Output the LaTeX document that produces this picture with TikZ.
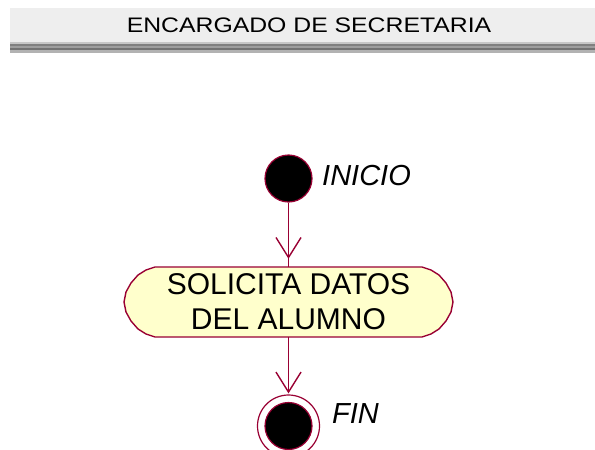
\documentclass[tikz,border=0pt]{standalone}
\usepackage{fontspec}
\setmainfont{Liberation Sans}
\usetikzlibrary{arrows.meta}
\definecolor{rosered}{HTML}{990033}
\definecolor{roseyellow}{HTML}{FFFFCC}
\definecolor{hdrbg}{HTML}{EEEEEE}
\begin{document}
\begin{tikzpicture}[x=1pt,y=-1pt,
  line/.style={draw=rosered,line width=1.4pt},
  conn/.style={line,-{Straight Barb[length=20pt,width=25pt,line width=1.4pt]}},
  label/.style={font=\fontsize{29}{29}\selectfont\itshape,inner sep=0pt,text=black},
  acttext/.style={font=\fontsize{30}{35}\selectfont,align=center,inner sep=0pt,text=black,minimum width=329pt,minimum height=70pt}
]
\useasboundingbox (0,0) rectangle (595,450);
% header
\fill[hdrbg] (10,8) rectangle (595,42);
\fill[black!22] (10,42) rectangle (595,44);
\fill[black!50] (10,44) rectangle (595,46);
\fill[black!38] (10,46) rectangle (595,48);
\fill[black!55] (10,48) rectangle (595,50);
\fill[black!30] (10,50) rectangle (595,53);
\node[anchor=base,inner sep=0pt,font=\fontsize{21}{21}\selectfont] (hdr) at (309,32) {\scalebox{1.18}[1]{ENCARGADO DE SECRETARIA}};
% initial state
\node[circle,fill=black,draw=rosered,line width=1.2pt,minimum size=47pt,inner sep=0pt] (ini) at (288.5,178.5) {};
\node[label,anchor=base west] (inilbl) at (322,185) {INICIO};
% activity
\path[line,fill=roseyellow]
  (155,267) -- (422,267)
  -- ++(9,3) -- ++(8,5) -- ++(7,8) -- ++(5,9) -- ++(2,10)
  -- ++(-2,10) -- ++(-5,9) -- ++(-7,8) -- ++(-8,5) -- ++(-9,3)
  -- (155,337)
  -- ++(-9,-3) -- ++(-8,-5) -- ++(-7,-8) -- ++(-5,-9) -- ++(-2,-10)
  -- ++(2,-10) -- ++(5,-9) -- ++(7,-8) -- ++(8,-5) -- cycle;
\node[acttext] (act) at (288.5,302) {SOLICITA DATOS\\DEL ALUMNO};
% final state
\node[circle,draw=rosered,line width=1.2pt,fill=white,minimum size=62pt,inner sep=0pt] (fin) at (288.5,426) {};
\node[circle,fill=black,draw=rosered,line width=1.2pt,minimum size=47pt,inner sep=0pt] (finin) at (fin.center) {};
\node[label,anchor=base west] (finlbl) at (332,423) {FIN};
% connectors
\draw[line] (ini) -- (act);
\draw[conn,shorten >=8pt] (ini) -- (act);
\draw[conn,shorten >=1pt] (act) -- (fin);
\end{tikzpicture}
\end{document}
